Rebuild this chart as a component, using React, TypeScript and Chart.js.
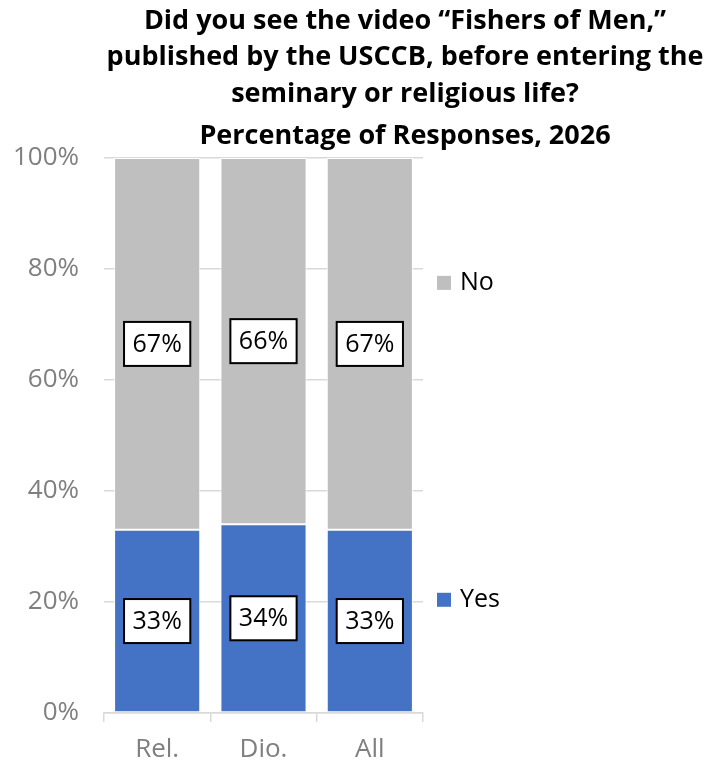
import React, { useEffect, useRef } from "react";
import { Chart, registerables } from "chart.js";

Chart.register(...registerables);

const categories = ["Rel.", "Dio.", "All"];
const yesValues = [33, 34, 33];
const noValues = [67, 66, 67];
const yTicks = [0, 20, 40, 60, 80, 100];
const titleLines = [
  "Did you see the video \u201cFishers of Men,\u201d",
  "published by the USCCB, before entering the",
  "seminary or religious life?",
  "Percentage of Responses, 2026",
];
const legendItems = [
  { label: "No", color: "#BFBFBF", at: 77.5 },
  { label: "Yes", color: "#4472C4", at: 20.4 },
];

const FONT = "'Open Sans', sans-serif";

const titlePlugin = {
  id: "customTitle",
  afterDraw(chart: any) {
    const ctx = chart.ctx;
    ctx.save();
    ctx.font = `bold 27px ${FONT}`;
    ctx.fillStyle = "#000000";
    ctx.textAlign = "center";
    ctx.textBaseline = "alphabetic";
    const baselines = [29, 65, 102, 144];
    titleLines.forEach((t, i) => ctx.fillText(t, 405, baselines[i]));
    ctx.restore();
  },
};

const labelPlugin = {
  id: "boxLabels",
  afterDatasetsDraw(chart: any) {
    const ctx = chart.ctx;
    ctx.save();
    ctx.font = `25px ${FONT}`;
    ctx.textAlign = "center";
    ctx.textBaseline = "middle";
    chart.data.datasets.forEach((ds: any, di: number) => {
      const meta = chart.getDatasetMeta(di);
      meta.data.forEach((el: any, i: number) => {
        const v = ds.data[i];
        const txt = `${v}%`;
        const cx = el.x;
        const cy = (el.y + el.base) / 2;
        const tw = ctx.measureText(txt).width;
        const w = tw + 17;
        const h = 44;
        ctx.fillStyle = "#FFFFFF";
        ctx.fillRect(cx - w / 2, cy - h / 2, w, h);
        ctx.lineWidth = 2;
        ctx.strokeStyle = "#000000";
        ctx.strokeRect(cx - w / 2, cy - h / 2, w, h);
        ctx.fillStyle = "#000000";
        ctx.fillText(txt, cx, cy + 1);
      });
    });
    ctx.restore();
  },
};

const legendPlugin = {
  id: "sideLegend",
  afterDraw(chart: any) {
    const ctx = chart.ctx;
    const yScale = chart.scales.y;
    const x0 = chart.chartArea.right + 14;
    ctx.save();
    ctx.font = `25px ${FONT}`;
    ctx.textAlign = "left";
    ctx.textBaseline = "middle";
    legendItems.forEach((it) => {
      const y = yScale.getPixelForValue(it.at);
      ctx.fillStyle = it.color;
      ctx.fillRect(x0, y - 7, 14, 14);
      ctx.fillStyle = "#000000";
      ctx.fillText(it.label, x0 + 23, y);
    });
    ctx.restore();
  },
};

export default function App() {
  const ref = useRef<HTMLCanvasElement | null>(null);
  useEffect(() => {
    if (!ref.current) return;
    const chart = new Chart(ref.current, {
      type: "bar",
      data: {
        labels: categories,
        datasets: [
          {
            label: "Yes",
            data: yesValues,
            backgroundColor: "#4472C4",
            borderColor: "#FFFFFF",
            borderWidth: 1,
            borderSkipped: false,
          },
          {
            label: "No",
            data: noValues,
            backgroundColor: "#BFBFBF",
            borderColor: "#FFFFFF",
            borderWidth: 1,
            borderSkipped: false,
          },
        ],
      },
      options: {
        animation: false,
        responsive: false,
        maintainAspectRatio: false,
        layout: { padding: { left: 13, right: 287, bottom: 0, top: 158 } },
        datasets: { bar: { barPercentage: 0.81, categoryPercentage: 1 } },
        plugins: {
          legend: { display: false },
          tooltip: { enabled: false },
          title: { display: false },
        },
        scales: {
          x: {
            stacked: true,
            offset: true,
            afterFit: (axis: any) => {
              axis.height = 54;
            },
            grid: {
              offset: true,
              drawOnChartArea: false,
              drawTicks: true,
              tickLength: 9,
              color: "#D9D9D9",
              lineWidth: 1.5,
            },
            border: { display: true, color: "#D9D9D9", width: 1.5 },
            ticks: { color: "#7F7F7F", font: { family: FONT, size: 26, lineHeight: 0.8 }, padding: 17.6 },
          },
          y: {
            stacked: true,
            min: 0,
            max: 100,
            afterBuildTicks: (axis: any) => {
              axis.ticks = yTicks.map((v) => ({ value: v }));
            },
            afterFit: (axis: any) => {
              axis.width = 91;
            },
            grid: { color: "#D9D9D9", lineWidth: 1.5, drawTicks: false },
            border: { display: false },
            ticks: {
              color: "#7F7F7F",
              font: { family: FONT, size: 26 },
              padding: 25,
              callback: (v: any) => `${v}%`,
            },
          },
        },
      },
      plugins: [labelPlugin, legendPlugin, titlePlugin],
    });
    return () => chart.destroy();
  }, []);
  return (
    <div style={{ position: "absolute", left: 0, top: 0, width: 710, height: 767, background: "#FFFFFF" }}>
      <canvas ref={ref} width={710} height={767} style={{ width: 710, height: 767, display: "block" }} />
    </div>
  );
}
